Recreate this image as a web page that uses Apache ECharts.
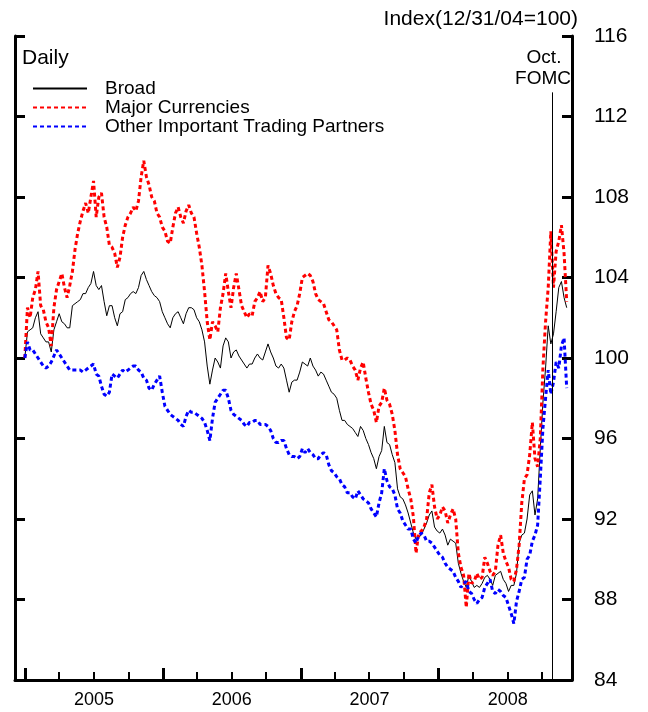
<!DOCTYPE html>
<html>
<head>
<meta charset="utf-8">
<script src="https://cdn.jsdelivr.net/npm/echarts@6/dist/echarts.min.js"></script>
<style>
  html, body { margin: 0; padding: 0; background: #fff; }
  #chart { width: 648px; height: 712px; }
</style>
</head>
<body>
<div id="chart"></div>
<script>
// weekly readings, first point is 12/31/04 (=100)
const years = [2005, 2006, 2007, 2008];
const yTicks = [84, 88, 92, 96, 100, 104, 108, 112, 116];

const broad = [
  100.0,101.3,101.4,101.5,102.0,102.3,101.2,101.0,100.8,100.8,
  100.3,101.4,101.8,102.2,101.8,101.7,101.5,101.5,102.6,102.7,
  102.8,102.9,103.2,103.2,103.5,103.7,104.3,103.6,103.4,103.6,
  102.8,102.1,102.6,102.6,102.0,101.6,102.2,102.3,102.9,103.0,
  103.2,103.3,103.2,103.5,104.1,104.3,103.9,103.6,103.3,103.1,
  103.0,102.8,102.3,102.0,101.7,101.5,102.0,102.2,102.3,102.0,
  101.7,102.2,102.5,102.5,102.4,102.0,101.8,101.4,100.8,99.6,
  98.7,99.4,100.0,99.8,99.5,100.6,101.0,100.8,100.0,100.3,
  100.4,100.1,99.9,99.7,99.5,99.7,99.7,100.0,100.2,100.0,
  99.9,100.3,100.7,100.3,100.0,99.6,99.5,99.7,99.5,98.9,
  98.3,98.8,98.9,98.9,99.3,99.8,99.7,99.6,100.0,99.6,
  99.4,99.1,99.3,99.2,98.9,98.6,98.3,98.2,98.0,97.4,
  96.9,96.9,96.7,96.6,96.5,96.3,96.1,96.6,96.4,96.0,
  95.7,95.3,95.0,94.5,95.1,95.4,96.6,95.8,95.7,95.2,
  94.8,93.5,93.1,93.0,92.7,92.3,91.8,91.3,91.0,91.1,
  91.2,91.5,91.8,92.2,92.4,91.6,91.4,91.3,91.5,91.2,
  90.7,91.0,90.9,90.8,89.8,89.3,88.9,88.6,89.2,88.9,
  88.6,88.7,88.6,88.8,89.1,89.2,89.0,88.7,89.2,89.3,
  89.4,89.0,88.8,88.4,88.7,88.7,89.3,90.8,91.2,91.3,
  92.0,93.2,93.4,92.2,93.0,95.5,97.8,99.5,101.6,100.7,
  101.2,102.3,103.5,103.8,103.0,102.5
];

const major = [
  100.0,102.5,102.0,103.0,103.4,104.3,102.6,102.4,101.8,101.5,
  100.6,102.5,103.4,103.8,104.2,103.5,103.0,103.6,104.3,105.4,
  106.2,106.8,107.3,107.7,107.2,108.0,108.8,107.0,108.0,108.2,
  107.0,106.5,105.6,105.5,105.2,104.5,105.0,106.0,106.6,107.0,
  107.2,107.5,107.3,107.8,109.0,109.8,109.0,108.6,108.0,107.8,
  107.2,107.0,106.5,106.3,105.8,105.7,106.5,107.2,107.5,107.0,
  106.7,107.3,107.6,107.2,107.0,106.2,105.5,104.6,103.3,101.8,
  100.9,101.8,101.6,101.3,102.5,103.2,104.2,103.3,102.5,103.5,
  104.2,103.4,102.6,102.3,102.0,102.2,102.1,102.8,103.0,103.3,
  102.8,103.0,104.6,104.2,103.6,103.2,103.0,102.9,102.0,101.0,
  100.9,101.8,102.3,102.6,103.2,104.0,104.1,104.2,104.1,103.8,
  103.2,102.9,102.8,102.7,102.3,101.9,101.8,101.6,101.4,100.4,
  99.9,99.9,100.0,99.9,99.6,99.4,98.9,99.5,99.8,99.0,
  98.3,97.7,97.4,96.8,97.6,97.8,98.5,97.9,97.7,97.2,
  96.4,95.2,94.5,94.3,94.1,93.5,93.0,92.1,90.3,91.3,
  91.4,91.6,92.0,93.3,93.7,92.6,92.0,92.2,92.6,92.4,
  91.8,92.2,92.5,92.0,90.3,89.6,89.2,87.6,89.3,88.8,
  88.9,89.3,89.0,89.1,90.1,89.8,89.4,89.2,89.4,90.7,
  91.2,90.3,89.9,89.6,89.0,88.9,89.5,90.7,92.8,94.0,
  94.2,95.2,96.8,95.0,94.6,96.0,99.5,101.8,103.5,106.3,
  103.5,105.3,105.8,106.6,105.2,102.8
];

const otherPartners = [
  100.0,100.8,100.4,100.4,100.2,100.0,99.8,99.6,99.5,99.6,
  99.8,100.1,100.4,100.2,100.0,99.8,99.6,99.4,99.4,99.4,
  99.4,99.4,99.3,99.4,99.5,99.6,99.7,99.2,99.1,98.6,
  98.2,98.1,98.3,99.2,99.1,99.0,99.2,99.4,99.3,99.4,
  99.5,99.6,99.6,99.4,99.3,99.0,98.9,98.5,98.4,98.7,
  98.9,99.1,98.3,97.6,97.4,97.2,97.1,97.0,96.9,96.7,
  96.6,97.1,97.4,97.3,97.3,97.2,97.1,97.0,96.8,96.4,
  95.9,97.0,97.8,98.0,98.2,98.4,98.4,98.0,97.4,97.2,
  97.1,97.0,96.9,96.7,96.6,96.8,96.8,96.9,96.9,96.7,
  96.7,96.7,96.6,96.4,96.0,95.8,95.8,95.9,95.9,95.5,
  95.2,95.1,95.1,95.0,95.1,95.5,95.3,95.5,95.3,95.2,
  95.0,95.0,95.2,95.3,95.2,94.7,94.4,94.3,94.1,94.0,
  93.7,93.6,93.3,93.3,93.1,93.0,93.4,93.2,93.0,92.9,
  92.8,92.5,92.3,92.1,92.8,93.3,94.5,93.9,93.6,93.5,
  93.2,92.5,92.3,91.9,91.7,91.5,91.5,91.0,90.8,91.2,
  91.3,91.2,90.9,90.9,90.8,90.6,90.4,90.2,90.1,89.8,
  89.6,89.5,89.4,89.1,88.9,88.6,88.8,88.9,88.4,88.3,
  88.0,87.8,88.0,88.1,88.6,88.8,89.0,88.4,88.3,88.5,
  88.4,88.2,88.1,87.7,87.3,86.8,87.9,88.4,89.0,89.1,
  90.0,90.2,90.9,91.2,91.7,94.0,96.5,98.0,99.4,98.2,
  98.8,99.8,99.5,100.6,101.0,98.5
];

const DAY = 86400000;
const start = Date.UTC(2004, 11, 31);
const fomcDate = Date.UTC(2008, 9, 29);
const xMin = Date.UTC(2004, 11, 5);
const xMax = Date.UTC(2008, 11, 19);

const font = 'Liberation Sans, Arial, sans-serif';
const withDates = arr => arr.map((v, i) => [start + i * 7 * DAY, v]);

const yearTicks = years.map(y => Date.UTC(y, 0, 1));
const quarterTicks = [];
years.forEach(y => [0, 3, 6, 9].forEach(m => quarterTicks.push(Date.UTC(y, m, 1))));
const labelPos = years.map(y => Date.UTC(y, 6, 2));

const chart = echarts.init(document.getElementById('chart'));

const yBase = {
  type: 'value', min: 84, max: 116, interval: 4,
  splitLine: { show: false },
  axisLine: { show: true, lineStyle: { color: '#000', width: 3 } },
  axisTick: { show: true, inside: true, length: 10, lineStyle: { color: '#000', width: 3 } }
};

chart.setOption({
  animation: false,
  backgroundColor: '#fff',
  grid: { left: 15, right: 76, top: 36, bottom: 32 },
  xAxis: [
    {
      type: 'value', position: 'bottom', min: xMin, max: xMax,
      splitLine: { show: false },
      axisLine: { show: true, onZero: false, lineStyle: { color: '#000', width: 3 } },
      axisTick: { show: true, inside: true, length: 8, customValues: quarterTicks,
        lineStyle: { color: '#000', width: 2 } },
      axisLabel: { show: true, customValues: labelPos, margin: 11,
        fontSize: 18, fontFamily: font, color: '#000',
        formatter: v => String(new Date(v).getUTCFullYear()) }
    },
    {
      type: 'value', position: 'bottom', min: xMin, max: xMax,
      splitLine: { show: false },
      axisLine: { show: false, onZero: false },
      axisTick: { show: true, inside: true, length: 12, customValues: yearTicks,
        lineStyle: { color: '#000', width: 3 } },
      axisLabel: { show: false }
    }
  ],
  yAxis: [
    Object.assign({}, yBase, {
      position: 'right',
      axisLabel: { show: true, margin: 22, fontSize: 21, fontFamily: font, color: '#000',
        padding: [6, 0, 0, 0], customValues: yTicks }
    }),
    Object.assign({}, yBase, { position: 'left', axisLabel: { show: false } })
  ],
  legend: {
    orient: 'vertical', left: 27, top: 74,
    itemWidth: 54, itemHeight: 14, itemGap: 0,
    itemStyle: { opacity: 0 },
    textStyle: { fontSize: 19, lineHeight: 18, fontFamily: font, color: '#000', padding: [0, 0, 0, 13] },
    data: ['Broad', 'Major Currencies', 'Other Important Trading Partners']
  },
  graphic: [
    { type: 'text', x: 578, y: 19, style: { text: 'Index(12/31/04=100)', fill: '#000',
      font: '21px ' + font, align: 'right', textAlign: 'right', verticalAlign: 'middle', textVerticalAlign: 'middle' } },
    { type: 'text', x: 22, y: 58, style: { text: 'Daily', fill: '#000',
      font: '21px ' + font, align: 'left', verticalAlign: 'middle', textVerticalAlign: 'middle' } },
    { type: 'text', x: 544, y: 58, style: { text: 'Oct.', fill: '#000',
      font: '19px ' + font, align: 'center', textAlign: 'center', verticalAlign: 'middle', textVerticalAlign: 'middle' } },
    { type: 'text', x: 543, y: 79, style: { text: 'FOMC', fill: '#000',
      font: '19px ' + font, align: 'center', textAlign: 'center', verticalAlign: 'middle', textVerticalAlign: 'middle' } }
  ],
  series: [
    {
      name: 'Broad', type: 'line', data: withDates(broad), symbol: 'none',
      color: '#000', lineStyle: { color: '#000', width: 1 },
      markLine: {
        symbol: 'none', silent: true, label: { show: false },
        lineStyle: { color: '#000', width: 1, type: 'solid' },
        data: [[{ coord: [fomcDate, 113.2] }, { coord: [fomcDate, 84] }]]
      }
    },
    {
      name: 'Major Currencies', type: 'line', data: withDates(major), symbol: 'none',
      color: '#ff0000', lineStyle: { color: '#ff0000', width: 3, type: [4, 3] }
    },
    {
      name: 'Other Important Trading Partners', type: 'line', data: withDates(otherPartners), symbol: 'none',
      color: '#0000ff', lineStyle: { color: '#0000ff', width: 3, type: [4, 3] }
    }
  ]
});
</script>
</body>
</html>
